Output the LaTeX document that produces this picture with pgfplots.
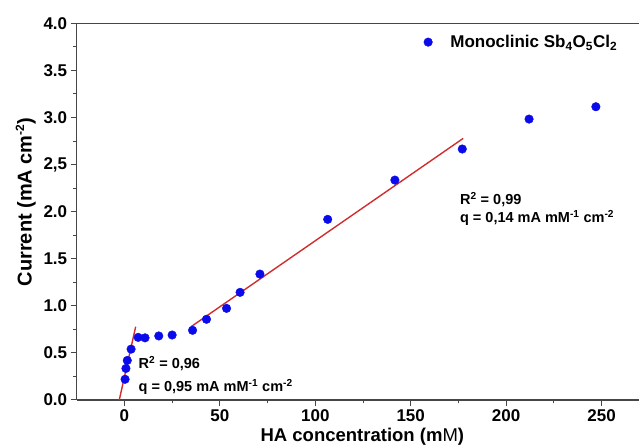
\documentclass[border=0pt]{standalone}
\usepackage{pgfplots}
\pgfplotsset{compat=1.18}
\usepackage{fontspec}
\setmainfont{Liberation Sans}
\definecolor{fitred}{RGB}{210,45,45}
\definecolor{axgray}{RGB}{70,70,70}
\definecolor{dotblue}{RGB}{10,10,235}
\pgfplotstableread{
x y
0.35 0.22
0.8 0.335
1.5 0.42
3.5 0.54
7.2 0.665
10.8 0.66
18.0 0.68
25.0 0.69
35.7 0.74
43.0 0.857
53.5 0.973
60.6 1.143
71.0 1.337
106.5 1.918
141.7 2.335
177.0 2.665
212.0 2.983
247.0 3.114
}\datatab
\begin{document}
\begin{tikzpicture}
\begin{axis}[
  scale only axis, width=562.3pt, height=376.7pt,
  xmin=-25, xmax=269.6, ymin=0, ymax=4,
  axis x line*=box, axis y line*=left,
  xtick pos=left, ytick pos=left,
  tick align=outside,
  major tick length=6pt, minor tick length=3.5pt,
  axis line style={axgray, line width=1.1pt},
  every tick/.style={axgray, line width=1pt},
  xtick={0,50,...,250}, minor x tick num=1,
  ytick={0,0.5,...,4}, minor y tick num=1,
  yticklabels={0.0,0.5,1.0,1.5,2.0,{2,5},3.0,3.5,4.0},
  /pgf/number format/assume math mode=true,
  tick label style={font=\fontsize{17}{20}\selectfont\bfseries, text=black},
  xlabel={HA concentration (m\textmd{M})},
  ylabel={Current (mA cm\textsuperscript{\fontsize{12}{12}\selectfont -2})},
  label style={font=\fontsize{18.5}{22}\selectfont\bfseries},
  xlabel style={at={(axis description cs:0.508,0)}, anchor=base, yshift=-42pt},
  ylabel style={at={(axis description cs:-0.0907,0.526)}, anchor=center, font=\fontsize{20}{24}\selectfont\bfseries},
  legend image code/.code={\path (0pt,0pt) (20pt,0pt); \draw[#1] plot coordinates {(0pt,0pt)};},
  legend style={at={(rel axis cs:0.617,0.95)}, anchor=west, draw=none, fill=none,
    font=\fontsize{17}{20}\selectfont\bfseries, inner sep=0pt},
  legend cell align=left,
  clip=false,
]
\addplot[fitred, line width=1.4pt, forget plot] coordinates {(-2.7,0) (5.9,0.778)};
\addplot[fitred, line width=1.4pt, forget plot] coordinates {(34.9,0.778) (177.5,2.778)};
\addplot[only marks, mark=*, mark size=4.3pt, dotblue, mark options={draw=dotblue, fill=dotblue}] table[x=x,y=y] {\datatab};
\addlegendentry{Monoclinic Sb\textsubscript{4}O\textsubscript{5}Cl\textsubscript{2}}
\node[anchor=west, font=\fontsize{14.5}{17}\selectfont\bfseries] at (axis cs:5.6,0.39) {R\textsuperscript{2} = 0,96};
\node[anchor=west, font=\fontsize{14.5}{17}\selectfont\bfseries] at (axis cs:5.6,0.138) {q = 0,95 mA mM\textsuperscript{-1} cm\textsuperscript{-2}};
\node[anchor=west, font=\fontsize{14.5}{17}\selectfont\bfseries] at (axis cs:174,2.13) {R\textsuperscript{2} = 0,99};
\node[anchor=west, font=\fontsize{14.5}{17}\selectfont\bfseries] at (axis cs:174,1.93) {q = 0,14 mA mM\textsuperscript{-1} cm\textsuperscript{-2}};
\coordinate (bl) at (rel axis cs:0,0);
\coordinate (tr) at (rel axis cs:1,1);
\end{axis}
\pgfresetboundingbox
\path (bl) ++(-76.7pt,-48pt) rectangle (tr) ++(0pt,23.3pt);
\end{tikzpicture}
\end{document}
